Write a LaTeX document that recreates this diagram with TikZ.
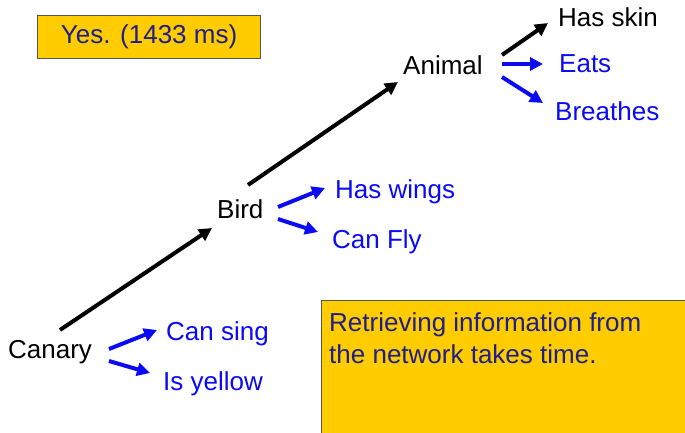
\documentclass[tikz,border=0pt]{standalone}
\usepackage{fontspec}
\setmainfont{Liberation Sans}
\usetikzlibrary{arrows.meta}
\definecolor{gold}{HTML}{FFCC00}
\definecolor{navy}{HTML}{1E1E8C}
\definecolor{vblue}{HTML}{0A0AF5}
\definecolor{boxline}{HTML}{555555}
\begin{document}
\begin{tikzpicture}[x=1pt,y=1pt,
  lbl/.style={inner sep=0pt, anchor=base west, font=\fontsize{26}{30}\selectfont},
  blk/.style={lbl, text=black},
  blu/.style={lbl, text=vblue},
  arr/.style={line width=4pt, -{Triangle[length=13pt,width=13pt]}},
  karr/.style={arr, draw=black},
  barr/.style={arr, draw=vblue},
  ybox/.style={draw=boxline, line width=1.2pt, fill=gold, inner sep=0pt}]
\useasboundingbox (0,0) rectangle (685,-433);
% boxes
\node[ybox, anchor=north west, minimum width=223pt, minimum height=43pt,
      text=navy, font=\fontsize{26}{30}\selectfont] (yes) at (37,-15) {Yes. (1433 ms)};
\node[ybox, anchor=north west, minimum width=380pt, minimum height=150pt] (info) at (321,-300) {};
\node[inner sep=0pt, anchor=base west, align=left, text=navy,
      font=\fontsize{26}{31.5}\selectfont] (infotext) at (329,-363)
      {Retrieving information from\\the network takes time.};
% labels
\node[blk] (canary) at (8,-358) {Canary};
\node[blu] (cansing) at (166,-340) {Can sing};
\node[blu] (isyellow) at (163,-390) {Is yellow};
\node[blk] (bird) at (217,-218) {Bird};
\node[blu] (haswings) at (335,-198) {Has wings};
\node[blu] (canfly) at (332,-248) {Can Fly};
\node[blk] (animal) at (403,-75) {Animal};
\node[blk] (hasskin) at (558,-27) {Has skin};
\node[blu] (eats) at (559,-73) {Eats};
\node[blu] (breathes) at (555,-121) {Breathes};
% arrows
\draw[karr] ([shift={(52,28)}]canary.base west) -- ([shift={(-5,-10)}]bird.base west);
\draw[karr] ([shift={(31,33)}]bird.base west) -- ([shift={(-5,-7)}]animal.base west);
\draw[barr] ([shift={(101,9)}]canary.base west) -- ([shift={(-9,10)}]cansing.base west);
\draw[barr] ([shift={(101,-3)}]canary.base west) -- ([shift={(-13,17)}]isyellow.base west);
\draw[barr] ([shift={(61,11)}]bird.base west) -- ([shift={(-10,10)}]haswings.base west);
\draw[barr] ([shift={(61,-1)}]bird.base west) -- ([shift={(-14,16)}]canfly.base west);
\draw[karr] ([shift={(99,20)}]animal.base west) -- ([shift={(-10,4)}]hasskin.base west);
\draw[barr] ([shift={(99,11)}]animal.base west) -- ([shift={(-16,9)}]eats.base west);
\draw[barr] ([shift={(99,-2)}]animal.base west) -- ([shift={(-12,18)}]breathes.base west);
\end{tikzpicture}
\end{document}
